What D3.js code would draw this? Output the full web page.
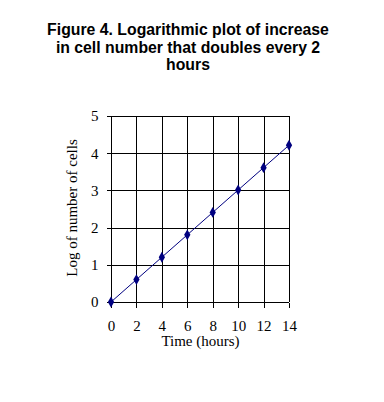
<!DOCTYPE html>
<html><head><meta charset="utf-8">
<script src="https://cdn.jsdelivr.net/npm/d3@7"></script>
<style>body{margin:0;background:#fff}svg{display:block}</style>
</head><body>
<script>
const hours = [0, 2, 4, 6, 8, 10, 12, 14];
const logCells = [0, 0.602, 1.204, 1.806, 2.408, 3.010, 3.612, 4.214];
const xTicks = [0, 2, 4, 6, 8, 10, 12, 14];
const yTicks = [0, 1, 2, 3, 4, 5];
const titleLines = ["Figure 4. Logarithmic plot of increase", "in cell number that doubles every 2", "hours"];

const W = 384, H = 402;
const svg = d3.select("body").append("svg").attr("width", W).attr("height", H);
const x = d3.scaleLinear().domain([0, 14]).range([111, 289]);
const y = d3.scaleLinear().domain([0, 5]).range([302, 116]);
const serif = "Liberation Serif, Times New Roman, serif";

svg.append("g").selectAll("text").data(titleLines).join("text")
  .attr("x", 188).attr("y", (d, i) => 35 + i * 17.5)
  .attr("text-anchor", "middle")
  .style("font-family", "Liberation Sans, Arial, sans-serif")
  .style("font-weight", "bold").style("font-size", "15.8px")
  .text(d => d);

const grid = svg.append("g").attr("stroke", "#000").attr("stroke-width", 1).attr("shape-rendering", "crispEdges");
grid.selectAll("line.h").data(yTicks).join("line").attr("class", "h")
  .attr("x1", x(0)).attr("x2", x(14)).attr("y1", d => Math.round(y(d)) + 0.5).attr("y2", d => Math.round(y(d)) + 0.5);
grid.selectAll("line.v").data(xTicks).join("line").attr("class", "v")
  .attr("y1", y(0)).attr("y2", y(5)).attr("x1", d => Math.round(x(d)) + 0.5).attr("x2", d => Math.round(x(d)) + 0.5);

const xAxis = d3.axisBottom(x).tickValues(xTicks).tickSize(5).tickPadding(13).tickFormat(d3.format("d"));
const gx = svg.append("g").attr("transform", `translate(0,${Math.round(y(0)) + 0.5})`).call(xAxis);
const yAxis = d3.axisLeft(y).tickValues(yTicks).tickSize(5).tickPadding(8).tickFormat(d3.format("d"));
const gy = svg.append("g").attr("transform", `translate(${Math.round(x(0)) + 0.5},0)`).call(yAxis);
[gx, gy].forEach(g => {
  g.select(".domain").remove();
  g.selectAll("line").attr("stroke", "#000").attr("shape-rendering", "crispEdges");
  g.selectAll("text").style("font-family", serif).style("font-size", "15px").attr("fill", "#000");
});

const line = d3.line().x((d, i) => x(hours[i])).y(d => y(d));
svg.append("path").datum(logCells).attr("d", line).attr("fill", "none").attr("stroke", "#000080").attr("stroke-width", 1);
svg.append("g").selectAll("path").data(logCells).join("path")
  .attr("transform", (d, i) => `translate(${x(hours[i])},${y(d)})`)
  .attr("d", d3.symbol().type(d3.symbolDiamond).size(34))
  .attr("fill", "#000080");

svg.append("text").attr("x", 200.5).attr("y", 346).attr("text-anchor", "middle")
  .style("font-family", serif).style("font-size", "15px")
  .text("Time (hours)");
svg.append("text").attr("transform", "translate(77,208) rotate(-90)").attr("text-anchor", "middle")
  .style("font-family", serif).style("font-size", "15px")
  .text("Log of number of cells");
</script>
</body></html>
